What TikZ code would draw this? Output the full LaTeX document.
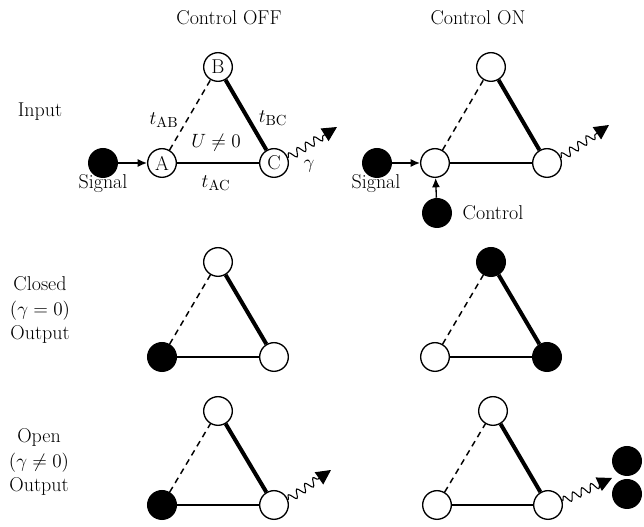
\documentclass[tikz,border=0pt]{standalone}
\usepackage{amsmath}
\usetikzlibrary{arrows.meta,decorations.pathmorphing}

\begin{document}
\begin{tikzpicture}[x=0.75pt,y=0.75pt,yscale=-1,
  font=\fontsize{15}{18.5}\selectfont,
  site/.style={circle,draw,line width=1pt,fill=white,minimum size=21.5pt,inner sep=0pt},
  occ/.style={site,fill=black},
  ball/.style={circle,fill=black,minimum size=22.5pt,inner sep=0pt},
  tweak/.style={line width=1.1pt,dash pattern=on 4.5pt off 3.5pt},
  tnorm/.style={line width=1.4pt},
  tstrong/.style={line width=3pt},
  feed/.style={line width=1pt,-{Latex[length=7pt,width=6pt]}},
  photon/.style={line width=0.8pt,decorate,
    decoration={snake,amplitude=3pt,segment length=7.5pt,post length=10pt},
    -{Triangle[length=11pt,width=11pt]}}]
\useasboundingbox (0,0) rectangle (644,527);

% Column and row titles
\node (hoff) at (229,18) {Control OFF};
\node (hon) at (478,18) {Control ON};
\node (rin) at (40,112) {Input};
\node [align=center] (rclosed) at (40,310) {Closed\\$(\gamma=0)$\\Output};
\node [align=center] (ropen) at (39,462) {Open\\$(\gamma\neq0)$\\Output};

%% Input, control off
\node [site] (a1) at (162,163) {A};
\node [site] (b1) at (218,67) {B};
\node [site] (c1) at (274,163) {C};
\draw [tweak] (a1) -- (b1);
\draw [tstrong] (b1) -- (c1);
\draw [tnorm] (a1) -- (c1);
\node [ball] (s1) at (103,163) {};
\draw [feed] (s1) -- (a1);
\coordinate (w1) at (337,127);
\draw [photon] (c1.20) -- (w1);
% Text Node
\node (sl1) at (103,184) {Signal};
\node (tab) at (164,120) {$t_{\mathrm{AB}}$};
\node (tbc) at (273,118) {$t_{\mathrm{BC}}$};
\node (tac) at (216,183) {$t_{\mathrm{AC}}$};
\node (uu) at (216,143) {$U\neq0$};
\node (gam) at (309,166) {$\gamma$};

%% Input, control on
\node [site] (a2) at (435,163) {};
\node [site] (b2) at (491,67) {};
\node [site] (c2) at (547,163) {};
\draw [tweak] (a2) -- (b2);
\draw [tstrong] (b2) -- (c2);
\draw [tnorm] (a2) -- (c2);
\node [ball] (s2) at (377,163) {};
\draw [feed] (s2) -- (a2);
\node [ball] (k2) at (437,213) {};
\draw [feed] (k2) -- (a2);
\coordinate (w2) at (609,125);
\draw [photon] (c2.20) -- (w2);
% Text Node
\node (sl2) at (376,184) {Signal};
\node [anchor=west] (kl2) at (458,213) {Control};

%% Closed output, control off
\node [occ] (a3) at (162,357) {};
\node [site] (b3) at (218,262) {};
\node [site] (c3) at (274,357) {};
\draw [tweak] (a3) -- (b3);
\draw [tstrong] (b3) -- (c3);
\draw [tnorm] (a3) -- (c3);

%% Closed output, control on
\node [site] (a4) at (435,357) {};
\node [occ] (b4) at (491,262) {};
\node [occ] (c4) at (547,357) {};
\draw [tweak] (a4) -- (b4);
\draw [tstrong] (b4) -- (c4);
\draw [tnorm] (a4) -- (c4);

%% Open output, control off
\node [occ] (a5) at (162,505) {};
\node [site] (b5) at (218,411) {};
\node [site] (c5) at (274,505) {};
\draw [tweak] (a5) -- (b5);
\draw [tstrong] (b5) -- (c5);
\draw [tnorm] (a5) -- (c5);
\coordinate (w5) at (331,470);
\draw [photon] (c5.20) -- (w5);

%% Open output, control on
\node [site] (a6) at (437,505) {};
\node [site] (b6) at (493,411) {};
\node [site] (c6) at (548,505) {};
\draw [tweak] (a6) -- (b6);
\draw [tstrong] (b6) -- (c6);
\draw [tnorm] (a6) -- (c6);
\coordinate (w6) at (612,478);
\draw [photon] (c6.15) -- (w6);
\node [ball] (o1) at (627,461) {};
\node [ball] (o2) at (627,494) {};

\end{tikzpicture}
\end{document}
